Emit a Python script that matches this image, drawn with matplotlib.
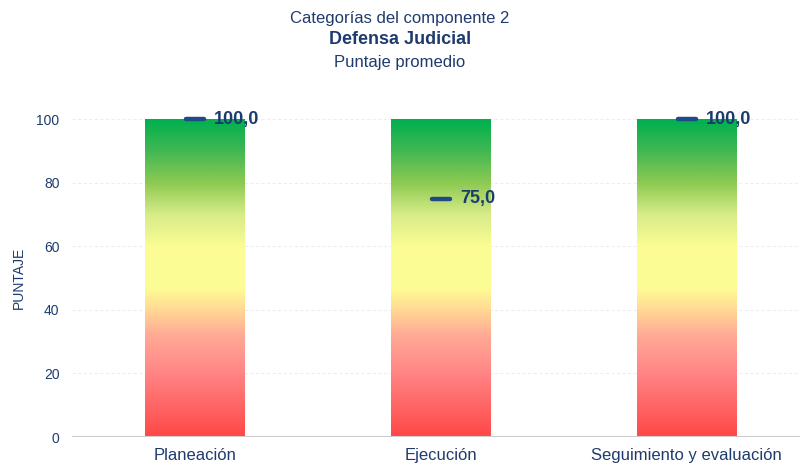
import numpy as np
import matplotlib.pyplot as plt
from matplotlib.colors import LinearSegmentedColormap

# datos
categorias = ['Planeación', 'Ejecución', 'Seguimiento y evaluación']
puntaje = [100.0, 75.0, 100.0]
escala = [100, 100, 100]
ticks_y = [0, 20, 40, 60, 80, 100]

azul = '#1F3B6E'
plt.rcParams['font.family'] = ['Liberation Sans', 'DejaVu Sans']

# degradado rojo -> amarillo -> verde
cmap = LinearSegmentedColormap.from_list('semaforo', [
    (0.00, '#ff4747'),
    (0.20, '#ff8585'),
    (0.32, '#ffaa95'),
    (0.42, '#ffe493'),
    (0.47, '#fdfd95'),
    (0.60, '#fbfc94'),
    (0.70, '#d8ec88'),
    (0.80, '#8dca52'),
    (0.90, '#42b852'),
    (1.00, '#00b04f'),
])

fig = plt.figure(figsize=(8, 4.68), dpi=100)
ax = fig.add_axes([0.09, 0.0662, 0.91, 0.7066])

grad = np.linspace(0, 1, 256).reshape(-1, 1)
ancho = 0.405
for i, h in enumerate(escala):
    ax.imshow(grad, cmap=cmap, origin='lower', aspect='auto',
              extent=[i - ancho / 2, i + ancho / 2, 0, h], zorder=2)

x = np.arange(len(categorias))
ax.hlines(puntaje, x - 0.037, x + 0.037, colors='#1F4A86', lw=3.2,
          capstyle='round', zorder=4)
for xi, p in zip(x, puntaje):
    ax.text(xi + 0.078, p, f'{p:.1f}'.replace('.', ','), va='center', ha='left',
            fontsize=13, fontweight='bold', color='#1B3C6C', zorder=5)

ax.set_xlim(-0.5, 2.46)
ax.set_ylim(0, 104)
ax.set_xticks(x)
ax.set_xticklabels(categorias, fontsize=12, color=azul)
ax.set_yticks(ticks_y)
ax.set_yticklabels([str(t) for t in ticks_y], fontsize=10, color=azul)
ax.tick_params(length=0)
ax.tick_params(axis='x', pad=8)
ax.tick_params(axis='y', pad=9)
for s in ax.spines.values():
    s.set_visible(False)
for t in ticks_y[1:]:
    ax.axhline(t, color='#eeeeee', lw=0.8, ls=(0, (3, 2)), zorder=1)
ax.axhline(0, color='#cccccc', lw=1.5, zorder=3)
ax.set_ylabel('PUNTAJE', fontsize=10, color=azul)
ax.yaxis.set_label_coords(-0.064, 0.48)

fig.text(0.5, 1 - 18 / 468, 'Categorías del componente 2', ha='center', va='center',
         fontsize=12, color=azul)
fig.text(0.5, 1 - 40 / 468, 'Defensa Judicial', ha='center', va='center',
         fontsize=13, fontweight='bold', color=azul)
fig.text(0.5, 1 - 62 / 468, 'Puntaje promedio', ha='center', va='center',
         fontsize=12, color=azul)

fig.savefig('out.png', dpi=100)
